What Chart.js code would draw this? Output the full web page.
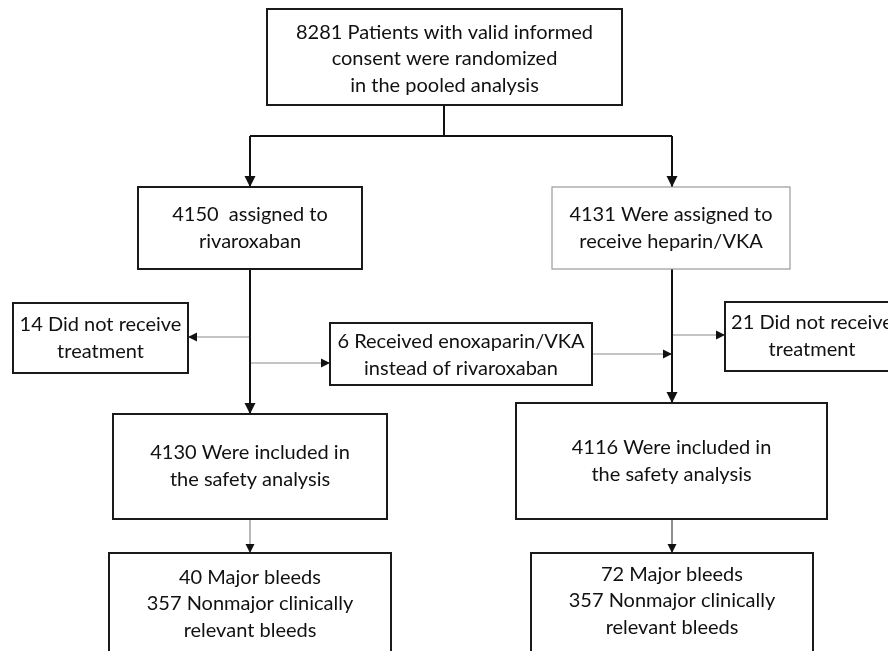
<!DOCTYPE html>
<html>
<head>
<meta charset="utf-8">
<script src="https://cdn.jsdelivr.net/npm/chart.js@4/dist/chart.umd.min.js"></script>
<style>
  html, body { margin: 0; padding: 0; background: #fff; overflow: hidden; }
  #wrap { width: 888px; height: 651px; }
</style>
</head>
<body>
<div id="wrap"><canvas id="flow" width="888" height="651"></canvas></div>
<script>
// box texts (content)
const boxLabels = [
    ['8281 Patients with valid informed', 'consent were randomized', 'in the pooled analysis'],
    ['4150  assigned to', 'rivaroxaban'],
    ['4131 Were assigned to', 'receive heparin/VKA'],
    ['14 Did not receive', 'treatment'],
    ['6 Received enoxaparin/VKA', 'instead of rivaroxaban'],
    ['21 Did not receive', 'treatment'],
    ['4130 Were included in', 'the safety analysis'],
    ['4116 Were included in', 'the safety analysis'],
    ['40 Major bleeds', '357 Nonmajor clinically', 'relevant bleeds'],
    ['72 Major bleeds', '357 Nonmajor clinically', 'relevant bleeds']
];

// box layout in chart units (x1, y1, x2, y2, text centre y)
const boxLayout = [
    [267, 9, 622, 105, 59],
    [138, 187, 362, 269, 228],
    [552, 187, 790, 269, 228],
    [13, 303, 188, 373, 338],
    [330, 323, 592, 385, 355],
    [725, 302, 899, 371, 336],
    [113, 414, 387, 519, 466],
    [516, 403, 827, 519, 461],
    [109, 553, 391, 670, 604],
    [531, 553, 813, 670, 601]
];
const boxStyle = ['main', 'main', 'light', 'main', 'main', 'main', 'main', 'main', 'main', 'main'];

// connectors: [points, kind, arrow at end]
const connectors = [
    [[[444, 105], [444, 136]], 'main', false],
    [[[250, 136], [672, 136]], 'main', false],
    [[[250, 136], [250, 187]], 'main', true],
    [[[672, 136], [672, 187]], 'main', true],
    [[[250, 269], [250, 414]], 'main', true],
    [[[672, 269], [672, 403]], 'main', true],
    [[[250, 337], [188, 337]], 'side', true],
    [[[250, 363], [330, 363]], 'side', true],
    [[[592, 354], [672, 354]], 'side', true],
    [[[672, 335], [725, 335]], 'side', true],
    [[[250, 519], [250, 553]], 'side', true],
    [[[672, 519], [672, 553]], 'thin', true]
];

const lineColor = { main: '#111', side: '#8a8a8a', thin: '#444' };
const lineWidth = { main: 2, side: 1.2, thin: 1.2 };

const datasets = connectors.map(([pts, kind, arrow]) => ({
    type: 'line',
    data: pts.map(p => ({ x: p[0], y: p[1] })),
    borderColor: lineColor[kind],
    borderWidth: lineWidth[kind],
    pointRadius: 0,
    fill: false,
    tension: 0,
    arrow: arrow,
    kind: kind
}));

const flowPlugin = {
    id: 'flow',
    afterDatasetsDraw(chart) {
        const ctx = chart.ctx;
        const xs = chart.scales.x, ys = chart.scales.y;
        // arrow heads
        chart.data.datasets.forEach(ds => {
            if (!ds.arrow) return;
            const n = ds.data.length;
            const a = ds.data[n - 2], b = ds.data[n - 1];
            const x0 = xs.getPixelForValue(a.x), y0 = ys.getPixelForValue(a.y);
            const x1 = xs.getPixelForValue(b.x), y1 = ys.getPixelForValue(b.y);
            const ang = Math.atan2(y1 - y0, x1 - x0);
            const len = ds.kind === 'main' ? 11 : 9;
            const half = ds.kind === 'main' ? 5.5 : 4.5;
            ctx.save();
            ctx.translate(x1, y1);
            ctx.rotate(ang);
            ctx.beginPath();
            ctx.moveTo(0, 0);
            ctx.lineTo(-len, -half);
            ctx.lineTo(-len, half);
            ctx.closePath();
            ctx.fillStyle = '#111';
            ctx.fill();
            ctx.restore();
        });
        // boxes
        ctx.save();
        ctx.font = '20px Lato, sans-serif';
        ctx.textAlign = 'center';
        ctx.textBaseline = 'middle';
        boxLayout.forEach((b, i) => {
            const x1 = xs.getPixelForValue(b[0]), y1 = ys.getPixelForValue(b[1]);
            const x2 = xs.getPixelForValue(b[2]), y2 = ys.getPixelForValue(b[3]);
            ctx.fillStyle = '#fff';
            ctx.fillRect(x1, y1, x2 - x1, y2 - y1);
            ctx.lineWidth = boxStyle[i] === 'light' ? 1.2 : 2;
            ctx.strokeStyle = boxStyle[i] === 'light' ? '#999' : '#1a1a1a';
            ctx.strokeRect(x1, y1, x2 - x1, y2 - y1);
            const lines = boxLabels[i];
            const cx = (x1 + x2) / 2;
            const cy = ys.getPixelForValue(b[4]);
            const lh = 26.5;
            ctx.fillStyle = '#111';
            lines.forEach((t, k) => {
                ctx.fillText(t, cx, cy + (k - (lines.length - 1) / 2) * lh);
            });
        });
        ctx.restore();
    }
};

new Chart(document.getElementById('flow').getContext('2d'), {
    type: 'scatter',
    data: { datasets: datasets },
    options: {
        responsive: false,
        animation: false,
        layout: { padding: 0 },
        plugins: { legend: { display: false }, tooltip: { enabled: false } },
        scales: {
            x: { type: 'linear', min: 0, max: 888, display: false },
            y: { type: 'linear', min: 0, max: 651, reverse: true, display: false }
        }
    },
    plugins: [flowPlugin]
});
</script>
</body>
</html>
